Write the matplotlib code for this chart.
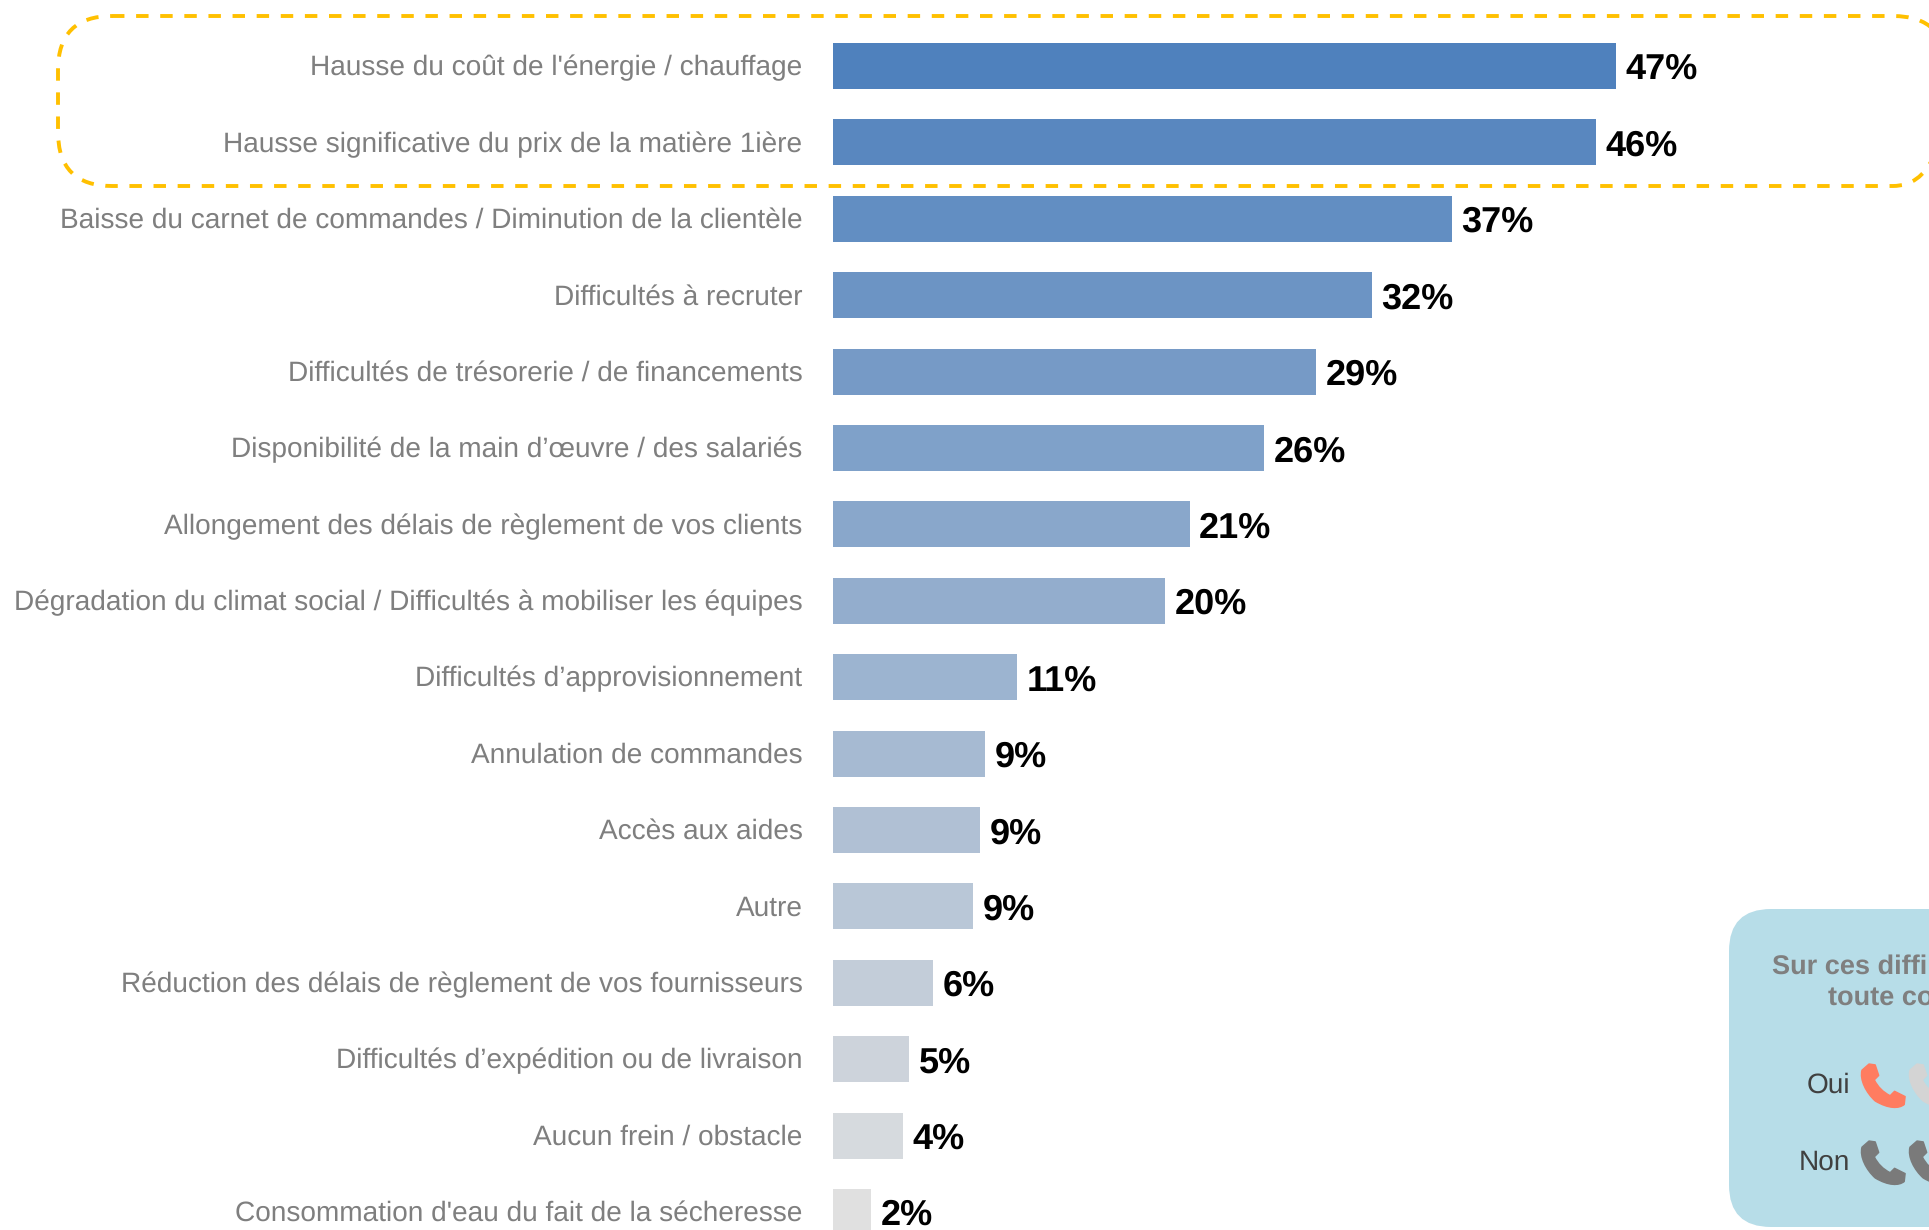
import matplotlib
matplotlib.use('Agg')
import matplotlib.pyplot as plt
from matplotlib.patches import FancyBboxPatch, PathPatch
from matplotlib.path import Path
from matplotlib.transforms import ScaledTranslation

plt.rcParams['font.family'] = ['Liberation Sans', 'DejaVu Sans']
plt.rcParams['text.hinting'] = 'no_hinting'

categories = [
    "Hausse du coût de l'énergie / chauffage",
    "Hausse significative du prix de la matière 1ière",
    "Baisse du carnet de commandes / Diminution de la clientèle",
    "Difficultés à recruter",
    "Difficultés de trésorerie / de financements",
    "Disponibilité de la main d’œuvre / des salariés",
    "Allongement des délais de règlement de vos clients",
    "Dégradation du climat social / Difficultés à mobiliser les équipes",
    "Difficultés d’approvisionnement",
    "Annulation de commandes",
    "Accès aux aides",
    "Autre",
    "Réduction des délais de règlement de vos fournisseurs",
    "Difficultés d’expédition ou de livraison",
    "Aucun frein / obstacle",
    "Consommation d'eau du fait de la sécheresse",
]
values = [47.0, 45.8, 37.15, 32.35, 29.0, 25.85, 21.4, 19.95, 11.05, 9.1, 8.85, 8.4, 6.0, 4.55, 4.2, 2.3]
value_labels = ['47%', '46%', '37%', '32%', '29%', '26%', '21%', '20%', '11%', '9%', '9%', '9%', '6%', '5%', '4%', '2%']

W, H = 1929, 1230
X0 = 833          # bar origin, px
PX_PER_PCT = 783 / 47
Y_FIRST = 66      # centre of first bar, px
Y_STEP = 76.4

# colour ramp from the first bar to the last one
c_start = (0x4F / 255, 0x81 / 255, 0xBD / 255)
c_end = (0xE0 / 255, 0xE0 / 255, 0xE0 / 255)
n = len(values)
colors = [tuple(a + (b - a) * i / (n - 1) for a, b in zip(c_start, c_end)) for i in range(n)]

fig = plt.figure(figsize=(W / 100, H / 100), dpi=100)
ax = fig.add_axes([X0 / W, 0, (W - X0) / W, 1])
ax.set_xlim(0, (W - X0) / PX_PER_PCT)
ax.set_ylim((H - Y_FIRST) / Y_STEP, -Y_FIRST / Y_STEP)

pos = list(range(n))
bars = ax.barh(pos, values, height=46 / Y_STEP, color=colors)
for b, lab in zip(bars, value_labels):
    ax.annotate(lab, (b.get_width(), b.get_y() + b.get_height() / 2), xytext=(7, -2.8),
                textcoords='offset points', va='center', ha='left',
                fontsize=26, fontweight='bold', color='black')

ax.set_yticks(pos)
ax.set_yticklabels(categories, fontsize=20.2, color='#7F7F7F')
ax.tick_params(axis='y', length=0, pad=22)
ax.set_xticks([])
for s in ax.spines.values():
    s.set_visible(False)
# labels sit a little above the bar centres
nudge = ScaledTranslation(0, 1 / 100, fig.dpi_scale_trans)
for t in ax.get_yticklabels():
    t.set_transform(t.get_transform() + nudge)

# overlay in pixel units for the annotations
ov = fig.add_axes([0, 0, 1, 1])
ov.set_xlim(0, W)
ov.set_ylim(H, 0)
ov.axis('off')
ov.patch.set_alpha(0)

ov.add_patch(FancyBboxPatch((58, 16), 1889, 170, boxstyle='round,pad=0,rounding_size=54',
                            fill=False, edgecolor='#FFC000', linewidth=2.8,
                            linestyle=(0, (3.2, 3.0))))

ov.add_patch(FancyBboxPatch((1729, 909), 300, 318, boxstyle='round,pad=0,rounding_size=42',
                            facecolor='#B7DDE8', edgecolor='none'))

ov.text(1772, 967, 'Sur ces diffi', fontsize=19.5, fontweight='bold', color='#7F7F7F', va='center', ha='left')
ov.text(1828, 998, 'toute co', fontsize=19.5, fontweight='bold', color='#7F7F7F', va='center', ha='left')
ov.text(1850, 1085, 'Oui', fontsize=20.2, color='#404040', va='center', ha='right')
ov.text(1850, 1162, 'Non', fontsize=20.2, color='#404040', va='center', ha='right')


def phone(x, y, size, color):
    # handset outline in a unit box, y going down
    pts = [
        (0.16, 0.00), (0.30, 0.02), (0.38, 0.26), (0.28, 0.36),
        (0.36, 0.52), (0.48, 0.64), (0.64, 0.72),
        (0.74, 0.62), (0.98, 0.74), (0.96, 0.92),
        (0.84, 1.02), (0.60, 1.02), (0.30, 0.84),
        (0.10, 0.66), (-0.06, 0.36), (0.00, 0.14),
        (0.16, 0.00),
    ]
    codes = [Path.MOVETO, Path.LINETO, Path.LINETO, Path.LINETO,
             Path.CURVE4, Path.CURVE4, Path.CURVE4,
             Path.LINETO, Path.LINETO, Path.LINETO,
             Path.CURVE4, Path.CURVE4, Path.CURVE4,
             Path.CURVE4, Path.CURVE4, Path.CURVE4,
             Path.CLOSEPOLY]
    verts = [(x + px * size, y + py * size) for px, py in pts]
    ov.add_patch(PathPatch(Path(verts, codes), facecolor=color, edgecolor=color,
                           linewidth=1, joinstyle='round'))


phone(1862, 1064, 44, '#FF7C60')
phone(1910, 1064, 44, '#D4D4D4')
phone(1862, 1141, 44, '#7A7A7A')
phone(1910, 1141, 44, '#7A7A7A')

plt.savefig('out.png', dpi=100)
